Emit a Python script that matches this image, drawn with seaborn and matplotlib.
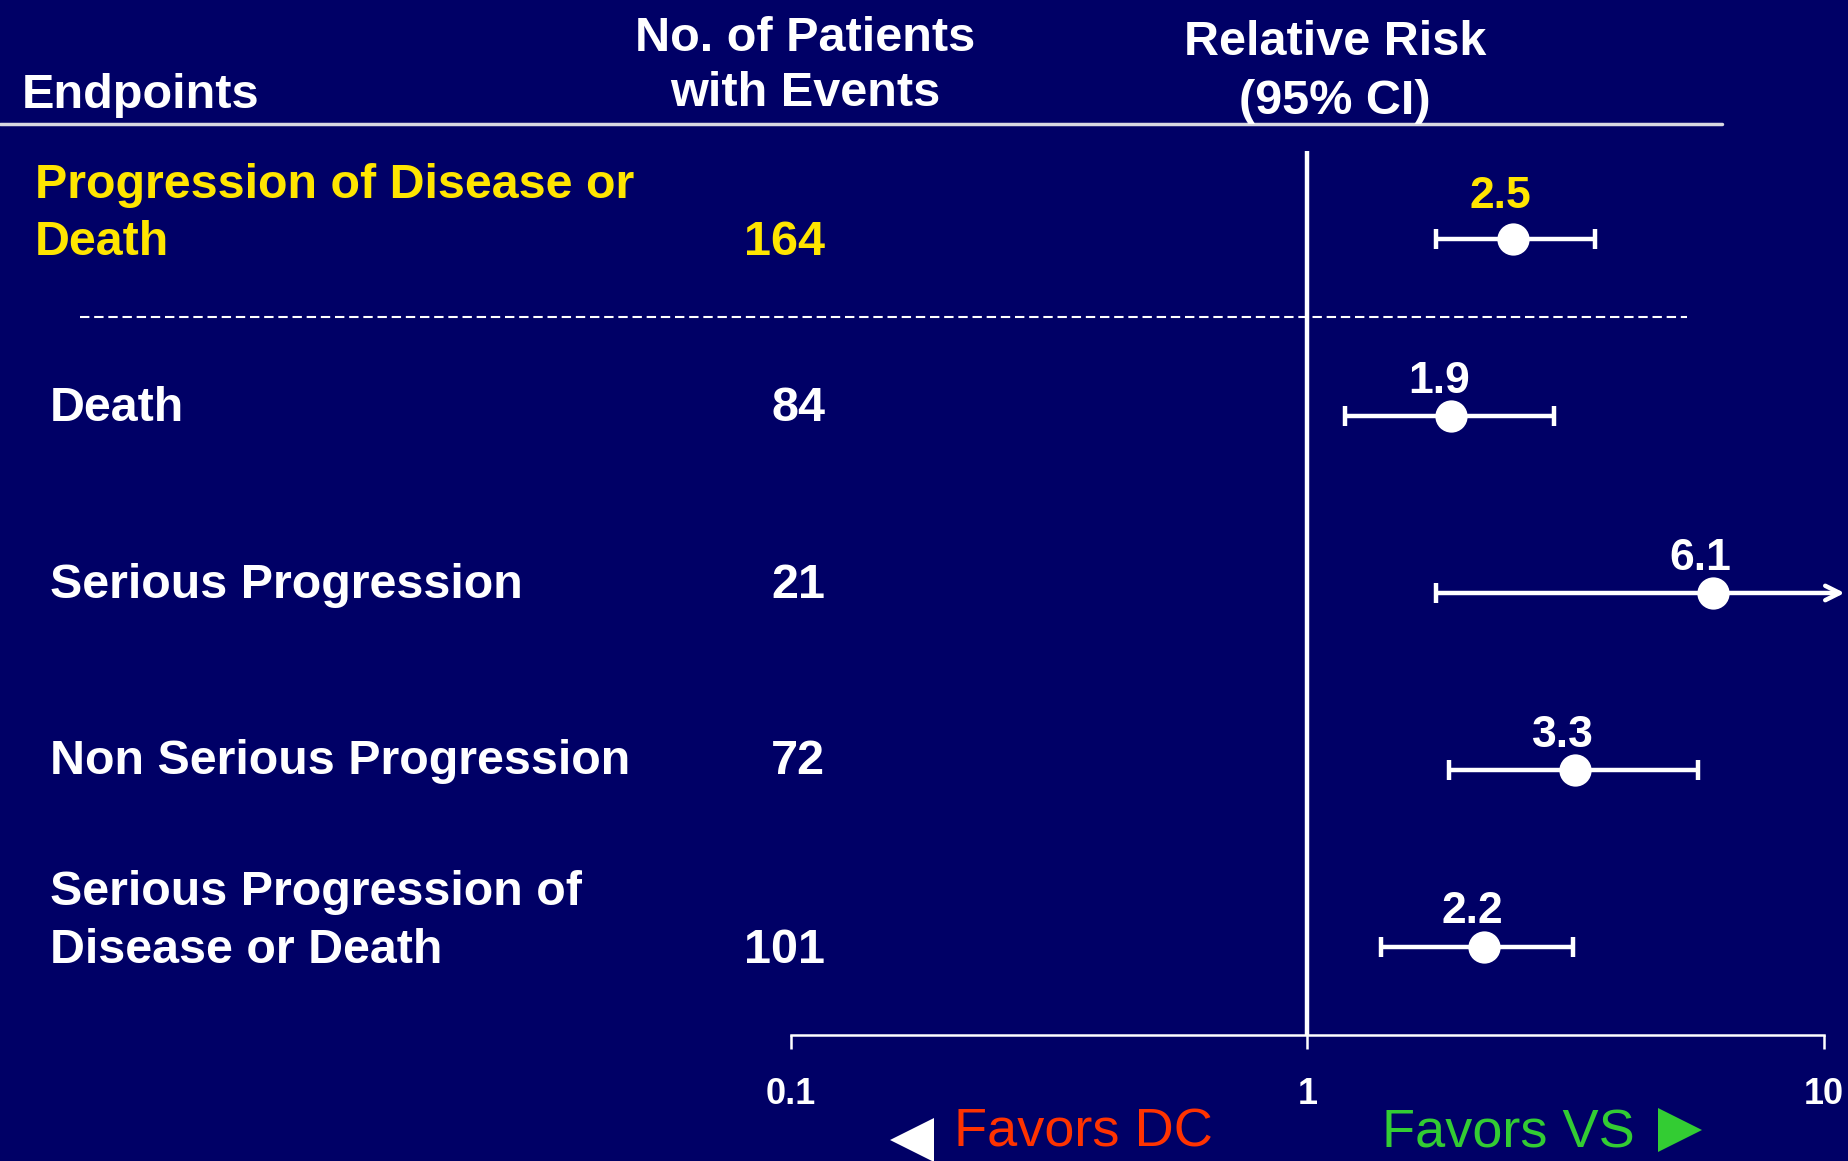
import numpy as np
import pandas as pd
import matplotlib
matplotlib.use("Agg")
import matplotlib.pyplot as plt
import matplotlib.transforms as mtransforms
from matplotlib.lines import Line2D
from matplotlib.ticker import NullLocator
import seaborn as sns

# ---- data -------------------------------------------------------------
endpoints = [
    "Progression of Disease or\nDeath",
    "Death",
    "Serious Progression",
    "Non Serious Progression",
    "Serious Progression of\nDisease or Death",
]
patients_with_events = [164, 84, 21, 72, 101]
relative_risk = [2.5, 1.9, 6.1, 3.3, 2.2]
ci_lower = [1.77, 1.18, 1.77, 1.88, 1.39]
ci_upper = [3.6, 3.0, np.nan, 5.7, 3.27]   # NaN: upper bound runs off the scale
x_ticks = [0.1, 1, 10]
x_tick_labels = ["0.1", "1", "10"]
header_labels = ["Endpoints", "No. of Patients\nwith Events", "Relative Risk\n(95% CI)"]
favors_labels = ["Favors DC", "Favors VS"]

# ---- style ------------------------------------------------------------
NAVY = "#000066"
YELLOW = "#FFE500"
WHITE = "#FFFFFF"
RED = "#FF3300"
GREEN = "#33CC33"

sns.set_theme(style="white", rc={
    "figure.facecolor": NAVY,
    "axes.facecolor": NAVY,
    "savefig.facecolor": NAVY,
})
plt.rcParams["font.family"] = ["Liberation Sans", "DejaVu Sans"]

df = pd.DataFrame({
    "endpoint": endpoints,
    "events": patients_with_events,
    "rr": relative_risk,
    "lo": ci_lower,
    "hi": ci_upper,
})
df["row"] = np.arange(len(df))
df["highlight"] = df["row"] == 0

fig = plt.figure(figsize=(18.48, 11.61), dpi=100)
ax = fig.add_axes([0.428, 0.1085, 0.559, 0.7615])
ax.set_facecolor(NAVY)

# reference line at RR = 1
ax.axvline(1, color=WHITE, lw=3.2, zorder=1)

# confidence intervals
LW = 3.2
ARROW_END = 10 ** 1.04
for r in df.itertuples():
    if np.isnan(r.hi):
        ax.errorbar(r.rr, r.row, xerr=[[r.rr - r.lo], [0]], fmt="none",
                    ecolor=WHITE, elinewidth=LW, capsize=7.5, capthick=LW, zorder=2)
        ax.annotate("", xy=(ARROW_END, r.row), xytext=(r.rr, r.row),
                    arrowprops=dict(arrowstyle="->", color=WHITE, lw=LW,
                                    mutation_scale=26, shrinkA=0, shrinkB=0),
                    annotation_clip=False, zorder=2)
    else:
        ax.errorbar(r.rr, r.row, xerr=[[r.rr - r.lo], [r.hi - r.rr]], fmt="none",
                    ecolor=WHITE, elinewidth=LW, capsize=7.5, capthick=LW, zorder=2)

# point estimates
sns.scatterplot(data=df, x="rr", y="row", s=540, color=WHITE, linewidth=0,
                ax=ax, zorder=3, legend=False)

# value labels above points
for r in df.itertuples():
    ax.annotate(f"{r.rr:.1f}", xy=(r.rr, r.row),
                xytext=(-9, 31 if r.highlight else 25),
                textcoords="offset points", ha="center", va="center",
                fontsize=32, fontweight="bold",
                color=YELLOW if r.highlight else WHITE)

# axes setup
ax.set_xscale("log")
ax.set_xlim(0.1, 10)
ax.set_ylim(len(df) - 0.5, -0.5)
ax.set_xticks(x_ticks)
ax.set_xticklabels(x_tick_labels, fontweight="bold")
ax.xaxis.set_minor_locator(NullLocator())
ax.set_yticks([])
ax.set_xlabel("")
ax.set_ylabel("")
ax.tick_params(axis="x", direction="out", length=10, width=1.8, color=WHITE,
               pad=20, labelsize=26, labelcolor=WHITE, bottom=True)
for side in ["top", "left", "right"]:
    ax.spines[side].set_visible(False)
ax.spines["bottom"].set_color(WHITE)
ax.spines["bottom"].set_linewidth(1.8)

# left-hand table: endpoint names and event counts
trans = mtransforms.blended_transform_factory(fig.transFigure, ax.transData)
LINE_STEP = 0.325
for r in df.itertuples():
    lines = r.endpoint.split("\n")
    last_y = r.row - 0.045 + 0.065 * (len(lines) - 1)
    color = YELLOW if r.highlight else WHITE
    xl = 0.019 if r.highlight else 0.0268
    for k, line in enumerate(lines):
        y = last_y - (len(lines) - 1 - k) * LINE_STEP
        ax.text(xl, y, line, transform=trans, ha="left", va="center",
                fontsize=34.8, fontweight="bold", color=color, clip_on=False)
    ax.text(0.4465, last_y, str(r.events), transform=trans,
            ha="right", va="center", fontsize=35, fontweight="bold",
            color=color, clip_on=False)

# dashed separator below the composite endpoint
ax.plot([0.0434, 0.913], [0.44, 0.44], transform=trans, ls=(0, (4.5, 2.3)),
        color=WHITE, lw=1.5, clip_on=False, zorder=1)

# column headers
fig.text(0.0115, 0.918, header_labels[0], ha="left", va="center",
         fontsize=35, fontweight="bold", color=WHITE)
fig.text(0.4356, 0.943, header_labels[1], ha="center", va="center",
         fontsize=35, fontweight="bold", color=WHITE, linespacing=1.3)
fig.text(0.7225, 0.938, header_labels[2], ha="center", va="center",
         fontsize=35, fontweight="bold", color=WHITE, linespacing=1.4)
fig.add_artist(Line2D([0, 0.932], [0.893, 0.893], color="#D8D8E0", lw=2.5,
                      transform=fig.transFigure))

# direction captions
fig.add_artist(Line2D([0.4935], [0.018], marker="<", ms=32, color=WHITE,
                      markeredgewidth=0, transform=fig.transFigure))
fig.text(0.5165, 0.0245, favors_labels[0], ha="left", va="center",
         fontsize=39, color=RED)
fig.text(0.748, 0.0235, favors_labels[1], ha="left", va="center",
         fontsize=39, color=GREEN)
fig.add_artist(Line2D([0.909], [0.0267], marker=">", ms=32, color=GREEN,
                      markeredgewidth=0, transform=fig.transFigure))

fig.savefig("out.png", dpi=100, facecolor=NAVY)
